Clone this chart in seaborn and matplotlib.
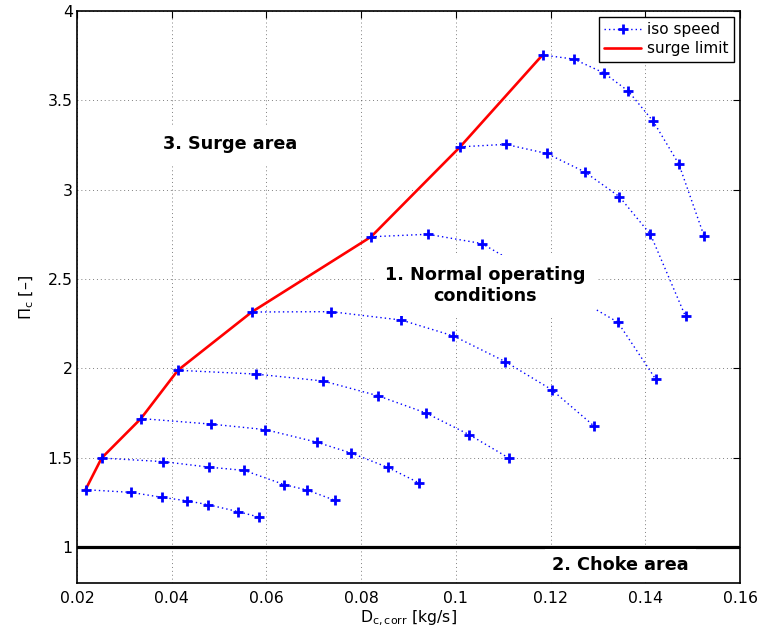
import matplotlib
matplotlib.use("Agg")
import matplotlib.pyplot as plt
import seaborn as sns
import pandas as pd
from matplotlib.ticker import FuncFormatter

# ---------------- data ----------------
speed1_x = [0.0218, 0.0314, 0.0380, 0.0432, 0.0477, 0.0539, 0.0584]
speed1_y = [1.322, 1.307, 1.279, 1.260, 1.238, 1.200, 1.169]
speed2_x = [0.0252, 0.0382, 0.0479, 0.0553, 0.0638, 0.0686, 0.0745]
speed2_y = [1.499, 1.479, 1.448, 1.430, 1.350, 1.320, 1.262]
speed3_x = [0.0335, 0.0483, 0.0598, 0.0706, 0.0779, 0.0856, 0.0923]
speed3_y = [1.720, 1.689, 1.658, 1.588, 1.527, 1.447, 1.359]
speed4_x = [0.0413, 0.0577, 0.0720, 0.0835, 0.0937, 0.1028, 0.1112]
speed4_y = [1.990, 1.969, 1.930, 1.848, 1.751, 1.630, 1.499]
speed5_x = [0.0569, 0.0736, 0.0885, 0.0995, 0.1104, 0.1202, 0.1291]
speed5_y = [2.316, 2.318, 2.271, 2.182, 2.039, 1.882, 1.680]
speed6_x = [0.0821, 0.0941, 0.1055, 0.1342, 0.1422]
speed6_y = [2.737, 2.751, 2.699, 2.259, 1.940]
speed7_x = [0.1009, 0.1105, 0.1192, 0.1272, 0.1345, 0.1411, 0.1485]
speed7_y = [3.240, 3.254, 3.203, 3.100, 2.962, 2.750, 2.291]
speed8_x = [0.1183, 0.1249, 0.1313, 0.1364, 0.1417, 0.1471, 0.1524]
speed8_y = [3.754, 3.731, 3.653, 3.552, 3.382, 3.143, 2.742]

surge_x = [0.0218, 0.0252, 0.0335, 0.0413, 0.0569, 0.0821, 0.1009, 0.1183]
surge_y = [1.322, 1.499, 1.720, 1.990, 2.316, 2.737, 3.240, 3.754]

choke_x = [0.02, 0.16]
choke_y = [1.0, 1.0]

x_ticks = [0.02, 0.04, 0.06, 0.08, 0.10, 0.12, 0.14, 0.16]
y_ticks = [1.0, 1.5, 2.0, 2.5, 3.0, 3.5, 4.0]

series_names = ["iso speed", "surge limit"]
xlabel = r"D$_{\mathrm{c,corr}}$ [kg/s]"
ylabel = r"$\Pi_{\mathrm{c}}$ [–]"
txt_surge = "3. Surge area"
txt_normal = "1. Normal operating\nconditions"
txt_choke = "2. Choke area"

# ---------------- build ----------------
speeds = [(speed1_x, speed1_y), (speed2_x, speed2_y), (speed3_x, speed3_y),
          (speed4_x, speed4_y), (speed5_x, speed5_y), (speed6_x, speed6_y),
          (speed7_x, speed7_y), (speed8_x, speed8_y)]
rows = []
for i, (xs, ys) in enumerate(speeds):
    for a, b in zip(xs, ys):
        rows.append({"curve": i, "D": a, "Pi": b})
df = pd.DataFrame(rows)
df_surge = pd.DataFrame({"D": surge_x, "Pi": surge_y})
df_choke = pd.DataFrame({"D": choke_x, "Pi": choke_y})

sns.set_style("white")
plt.rcParams["font.family"] = ["DejaVu Sans"]
plt.rcParams["mathtext.fontset"] = "dejavusans"
plt.rcParams["text.color"] = "black"
plt.rcParams["axes.labelcolor"] = "black"
plt.rcParams["xtick.color"] = "black"
plt.rcParams["ytick.color"] = "black"

fig = plt.figure(figsize=(7.6, 6.35), dpi=100)
ax = fig.add_axes([77 / 760, 1 - 583 / 635, 663 / 760, 572 / 635])

sns.lineplot(data=df_choke, x="D", y="Pi", ax=ax, color="black",
             linewidth=2.3, sort=False, zorder=2)
sns.lineplot(data=df_surge, x="D", y="Pi", ax=ax, color="red",
             linewidth=1.9, sort=False, zorder=2.1)
surge_line = ax.lines[-1]
iso_line = None
for i in range(len(speeds)):
    sub = df[df["curve"] == i]
    sns.lineplot(data=sub, x="D", y="Pi", ax=ax, color="blue",
                 linestyle=(0, (1, 2.2)), linewidth=1.0, marker="+",
                 markersize=7, markeredgewidth=2.0, markeredgecolor="blue",
                 sort=False, zorder=2.2)
    if iso_line is None:
        iso_line = ax.lines[-1]

ax.set_xlim(0.02, 0.16)
ax.set_ylim(0.8, 4.0)
ax.set_xticks(x_ticks)
ax.set_yticks(y_ticks)
fmt = FuncFormatter(lambda v, p: f"{v:g}")
ax.xaxis.set_major_formatter(fmt)
ax.yaxis.set_major_formatter(fmt)
ax.tick_params(direction="in", length=5, width=0.8, top=True, right=True,
               labelsize=11.3, colors="black", labelcolor="black")
ax.tick_params(axis="x", pad=6)
ax.tick_params(axis="y", pad=3)
ax.grid(True, linestyle=(0, (1, 3)), color="black", linewidth=0.7, alpha=0.5)
ax.set_axisbelow(True)
for s in ax.spines.values():
    s.set_color("black")
    s.set_linewidth(1.2)

ax.set_xlabel(xlabel, fontsize=11.3, color="black")
ax.set_ylabel(ylabel, fontsize=11.5, color="black")
ax.xaxis.set_label_coords(0.5, -0.045)
ax.yaxis.set_label_coords(-0.062, 0.5)

box = dict(facecolor="white", edgecolor="none", boxstyle="square,pad=0.6")
ax.text(0.0524, 3.255, txt_surge, fontsize=12.7, fontweight="bold",
        color="black", ha="center", va="center", bbox=box, zorder=5)
ax.text(0.1062, 2.465, txt_normal, fontsize=12.7, fontweight="bold",
        color="black", ha="center", va="center", multialignment="center",
        linespacing=1.25, bbox=box, zorder=5)
ax.text(0.1348, 0.898, txt_choke, fontsize=12.7, fontweight="bold",
        color="black", ha="center", va="center",
        bbox=dict(facecolor="white", edgecolor="none", boxstyle="square,pad=0.4"),
        zorder=5)

leg = ax.legend([iso_line, surge_line], series_names, loc="upper right",
                fontsize=11, frameon=True, fancybox=False, framealpha=1,
                edgecolor="black", borderpad=0.35, handlelength=2.4,
                handletextpad=0.4, labelspacing=0.25, borderaxespad=0.4)
leg.get_frame().set_linewidth(1.0)
for t in leg.get_texts():
    t.set_color("black")

fig.savefig("out.png", dpi=100)
